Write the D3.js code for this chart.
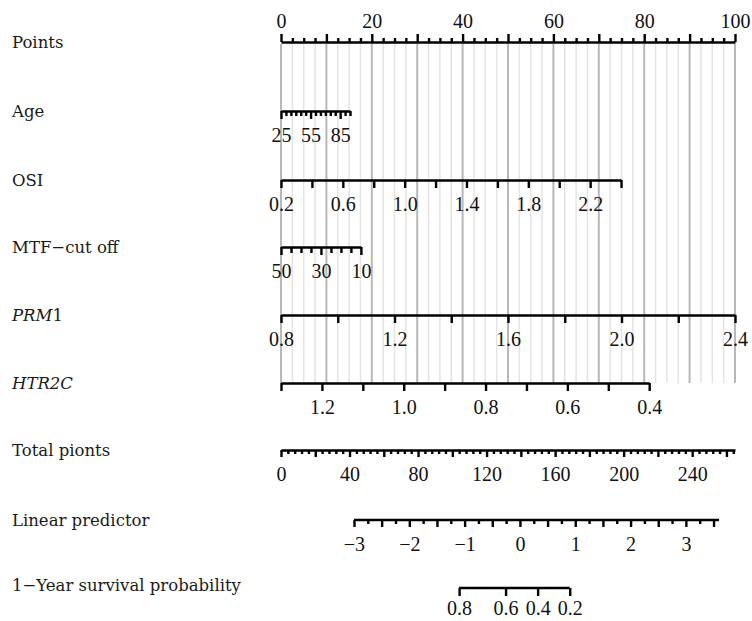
<!DOCTYPE html>
<html>
<head>
<meta charset="utf-8">
<script src="https://cdnjs.cloudflare.com/ajax/libs/d3/7.8.5/d3.min.js"></script>
<style>
  body { margin: 0; background: #fff; }
  .lab { font-family: "DejaVu Serif", serif; font-size: 16.5px; fill: #1a1a1a; }
  .tk text { font-family: "Liberation Serif", "Times New Roman", serif; font-size: 20px; fill: #111; }
  .tk path, .tk line { stroke: #000; stroke-width: 2.4; }
</style>
</head>
<body>
<div id="chart"></div>
<script>
// points axis
var pointsTicks = d3.range(0, 100.01, 2.5);
var pointsLabels = [0, 20, 40, 60, 80, 100];

// predictors: tick values, labelled values, value range and the points it spans
var ageTicks = [25, 30, 35, 40, 45, 50, 55, 60, 65, 70, 75, 80, 85, 90, 95];
var ageLabels = [25, 55, 85];
var ageRange = [25, 95], agePoints = [0, 15.2];

var osiTicks = [0.2, 0.4, 0.6, 0.8, 1.0, 1.2, 1.4, 1.6, 1.8, 2.0, 2.2, 2.4];
var osiLabels = [0.2, 0.6, 1.0, 1.4, 1.8, 2.2];
var osiRange = [0.2, 2.4], osiPoints = [0, 74.9];

var mtfTicks = [50, 45, 40, 35, 30, 25, 20, 15, 10];
var mtfLabels = [50, 30, 10];
var mtfRange = [50, 10], mtfPoints = [0, 17.6];

var prmTicks = [0.8, 1.0, 1.2, 1.4, 1.6, 1.8, 2.0, 2.2, 2.4];
var prmLabels = [0.8, 1.2, 1.6, 2.0, 2.4];
var prmRange = [0.8, 2.4], prmPoints = [0, 100];

var htrTicks = [1.3, 1.2, 1.1, 1.0, 0.9, 0.8, 0.7, 0.6, 0.5, 0.4];
var htrLabels = [1.2, 1.0, 0.8, 0.6, 0.4];
var htrRange = [1.3, 0.4], htrPoints = [0, 81.1];

// total points
var totalTicks = d3.range(0, 264.01, 4);
var totalLabels = [0, 40, 80, 120, 160, 200, 240];
var totalMax = 265;

// linear predictor and where it sits on total points
var lpTicks = d3.range(-3, 3.51, 0.25);
var lpLabels = [-3, -2, -1, 0, 1, 2, 3];
var lpRange = [-3, 3.6], lpTotal = [42.6, 255.7];

// 1-year survival: probability and its linear predictor value
var survLabels = [0.8, 0.6, 0.4, 0.2];
var survLp = [-1.10, -0.26, 0.32, 0.90];

var W = 752, H = 621;
var x0 = 281, x1 = 735;

var svg = d3.select("#chart").append("svg")
  .attr("width", W).attr("height", H);

var px = d3.scaleLinear().domain([0, 100]).range([x0, x1]);
var tx = d3.scaleLinear().domain([0, totalMax]).range([x0, x1]);

var gridTop = 44, gridBottom = 383;

// vertical reference lines
svg.append("g").selectAll("line").data(pointsTicks).enter()
  .append("line")
  .attr("x1", d => px(d)).attr("x2", d => px(d))
  .attr("y1", gridTop).attr("y2", gridBottom)
  .attr("stroke", d => d % 10 === 0 ? "#b8b8b8" : "#e4e4e4")
  .attr("stroke-width", d => d % 10 === 0 ? 2 : 1.5);

// Points axis on top
var ptsAxis = d3.axisTop(px).tickValues(pointsTicks).tickSizeOuter(0)
  .tickFormat(d => pointsLabels.indexOf(d) >= 0 ? d : "");
var gp = svg.append("g").attr("class", "tk").attr("transform", "translate(0,42)").call(ptsAxis);
gp.selectAll(".tick line").attr("y2", d => d % 10 === 0 ? -8 : -4);
gp.selectAll(".tick text").attr("y", -14).attr("dy", 0);

var fmt1 = d3.format(".1f");

function row(y, scale, ticks, labels, fmt, longTick, shortTick, textY) {
  var axis = d3.axisBottom(scale).tickValues(ticks).tickSizeOuter(0)
    .tickFormat((d, i) => {
      var k = labels.findIndex(v => Math.abs(v - d) < 1e-9);
      return k >= 0 ? fmt(d, k) : "";
    });
  var g = svg.append("g").attr("class", "tk").attr("transform", "translate(0," + y + ")").call(axis);
  g.selectAll(".tick line").attr("y2", d => {
    var lab = labels.some(v => Math.abs(v - d) < 1e-9);
    return lab ? longTick : shortTick;
  });
  g.selectAll(".tick text").attr("y", textY || 31).attr("dy", 0);
  return g;
}

var ageS = d3.scaleLinear().domain(ageRange).range(agePoints.map(px));
var osiS = d3.scaleLinear().domain(osiRange).range(osiPoints.map(px));
var mtfS = d3.scaleLinear().domain(mtfRange).range(mtfPoints.map(px));
var prmS = d3.scaleLinear().domain(prmRange).range(prmPoints.map(px));
var htrS = d3.scaleLinear().domain(htrRange).range(htrPoints.map(px));
var lpS = d3.scaleLinear().domain(lpRange).range(lpTotal.map(tx));

row(111, ageS, ageTicks, ageLabels, d => d, 8, 5);
row(180, osiS, osiTicks, osiLabels, d => fmt1(d), 8, 8);
row(247, mtfS, mtfTicks, mtfLabels, d => d, 8, 6);
row(315, prmS, prmTicks, prmLabels, d => fmt1(d), 8, 8);
row(383, htrS, htrTicks, htrLabels, d => fmt1(d), 8, 8);
var gt = row(450, tx, totalTicks, totalLabels, d => d, 4, 4);
gt.selectAll(".tick line").attr("y2", d => d % 20 === 0 ? 7 : 4);
var gl = row(520, lpS, lpTicks, lpLabels, d => d3.format("d")(d), 7, 4);
gl.selectAll(".tick line").attr("y2", d => d % 0.5 === 0 ? 7 : 4);
gl.select(".domain").attr("d", "M" + lpS(lpRange[0]) + ",0H" + lpS(lpRange[1]));
var gs = row(588, lpS, survLp, survLp, (d, k) => fmt1(survLabels[k]), 8, 8, 27);
gs.select(".domain").attr("d", "M" + lpS(survLp[0]) + ",0H" + lpS(survLp[survLp.length - 1]));

// row labels on the left
var rowLabels = [
  { y: 43, parts: [["Points", false]] },
  { y: 112, parts: [["Age", false]] },
  { y: 181, parts: [["OSI", false]] },
  { y: 248, parts: [["MTF\u2212cut off", false]] },
  { y: 316, parts: [["PRM", true], ["1", false]] },
  { y: 384, parts: [["HTR2C", true]] },
  { y: 451, parts: [["Total pionts", false]] },
  { y: 521, parts: [["Linear predictor", false]] },
  { y: 586, parts: [["1\u2212Year survival probability", false]] }
];
var lt = svg.append("g").selectAll("text").data(rowLabels).enter()
  .append("text").attr("class", "lab")
  .attr("x", 12).attr("y", d => d.y + 5);
lt.selectAll("tspan").data(d => d.parts).enter().append("tspan")
  .attr("font-style", d => d[1] ? "italic" : null)
  .text(d => d[0]);
</script>
</body>
</html>
